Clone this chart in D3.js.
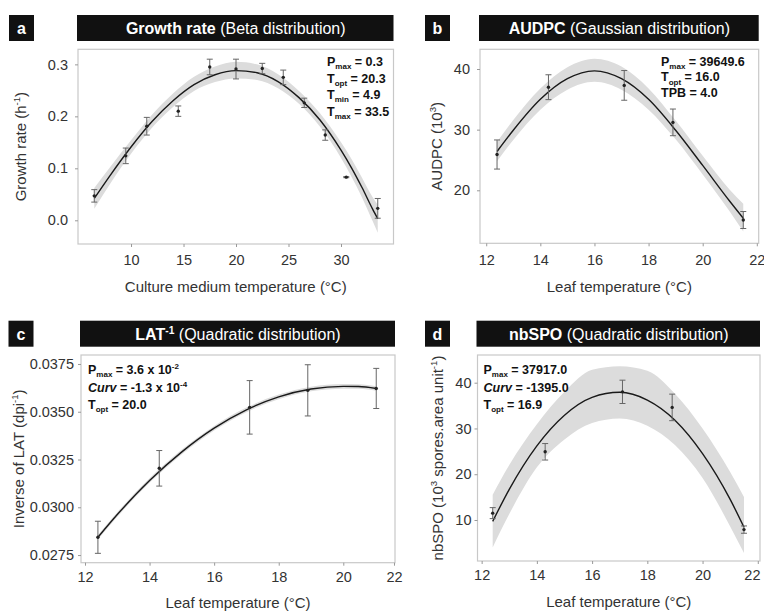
<!DOCTYPE html>
<html>
<head>
<meta charset="utf-8">
<script src="https://cdn.jsdelivr.net/npm/d3@7"></script>
<style>
body { margin: 0; background: #fff; }
text { font-family: "Liberation Sans", Arial, sans-serif; }
</style>
</head>
<body>
<svg id="chart" width="764" height="613"></svg>
<script>
// ---- panel a : growth rate vs culture medium temperature
var tempA = [6.5, 9.5, 11.5, 14.5, 17.5, 20, 22.5, 24.5, 26.5, 28.5, 30.5, 33.5];
var growthRate = [0.047, 0.124, 0.181, 0.210, 0.295, 0.291, 0.292, 0.275, 0.226, 0.164, 0.083, 0.023];
var growthErr = [0.012, 0.015, 0.017, 0.010, 0.015, 0.019, 0.010, 0.014, 0.009, 0.010, 0.001, 0.019];
var fitTempA = [6.5, 8, 10, 12, 14, 16, 18, 20, 22, 24, 26, 28, 30, 31, 32, 33, 33.5];
var fitGrowth = [0.042, 0.086, 0.141, 0.190, 0.230, 0.261, 0.280, 0.288, 0.284, 0.267, 0.236, 0.193, 0.135, 0.101, 0.063, 0.022, 0.003];
var fitGrowthHi = [0.062, 0.102, 0.154, 0.203, 0.244, 0.276, 0.296, 0.305, 0.300, 0.281, 0.249, 0.206, 0.150, 0.118, 0.082, 0.045, 0.030];
var fitGrowthLo = [0.022, 0.070, 0.128, 0.178, 0.218, 0.249, 0.266, 0.273, 0.270, 0.254, 0.224, 0.180, 0.120, 0.084, 0.044, -0.001, -0.024];
var ticksXA = [10, 15, 20, 25, 30];
var ticksYA = [0.0, 0.1, 0.2, 0.3];

// ---- panel b : AUDPC vs leaf temperature
var tempB = [12.4, 14.3, 17.1, 18.9, 21.5];
var audpc = [25.9, 37.0, 37.3, 31.2, 15.1];
var audpcErr = [2.4, 2.05, 2.45, 2.2, 1.4];
var fitTempB = [12.4, 13, 14, 15, 16, 17, 18, 19, 20, 21, 21.5];
var fitAudpc = [26.4, 29.9, 35.0, 38.4, 39.7, 38.4, 35.0, 29.9, 24.1, 18.2, 15.4];
var fitAudpcHi = [28.0, 31.6, 36.8, 40.3, 41.7, 40.4, 36.8, 31.5, 25.7, 20.1, 17.8];
var fitAudpcLo = [24.8, 28.3, 33.3, 36.6, 37.9, 36.6, 33.3, 28.4, 22.6, 16.5, 13.2];
var ticksXB = [12, 14, 16, 18, 20, 22];
var ticksYB = [20, 30, 40];

// ---- panel c : inverse of LAT vs leaf temperature
var tempC = [12.4, 14.3, 17.1, 18.9, 21.3];
var invLat = [0.02843, 0.03204, 0.03523, 0.03612, 0.03622];
var invLatErr = [0.00084, 0.00093, 0.00140, 0.00134, 0.00105];
var fitTempC = [12.4, 13, 14, 15, 16, 17, 18, 19, 20, 20.6, 21.3];
var fitInvLat = [0.02843, 0.02962, 0.03140, 0.03290, 0.03414, 0.03510, 0.03578, 0.03619, 0.03633, 0.03632, 0.03622];
var fitInvLatHi = [0.02855, 0.02974, 0.03152, 0.03302, 0.03426, 0.03522, 0.03590, 0.03631, 0.03645, 0.03644, 0.03634];
var fitInvLatLo = [0.02831, 0.02950, 0.03128, 0.03278, 0.03402, 0.03498, 0.03566, 0.03607, 0.03621, 0.03620, 0.03610];
var ticksXC = [12, 14, 16, 18, 20, 22];
var ticksYC = [0.0275, 0.0300, 0.0325, 0.0350, 0.0375];

// ---- panel d : nbSPO vs leaf temperature
var tempD = [12.4, 14.3, 17.1, 18.9, 21.5];
var nbSpo = [11.5, 24.9, 38.0, 34.6, 7.9];
var nbSpoErr = [1.2, 1.8, 2.55, 2.9, 0.8];
var fitTempD = [12.4, 13, 14, 15, 16, 17, 18, 19, 20, 21, 21.5];
var fitNbSpo = [9.7, 16.7, 26.2, 32.9, 36.8, 37.9, 36.2, 31.8, 24.5, 14.5, 8.4];
var fitNbSpoHi = [15.5, 22.0, 30.9, 38.0, 42.8, 43.6, 42.6, 37.6, 30.0, 20.5, 15.0];
var fitNbSpoLo = [4.0, 11.3, 21.5, 27.6, 31.2, 32.2, 30.6, 26.4, 19.2, 8.6, 2.8];
var ticksXD = [12, 14, 16, 18, 20, 22];
var ticksYD = [10, 20, 30, 40];

// text pieces: t = text, b = bold, i = italic, sub / sup
var titleA = [{t: "Growth rate", b: 1}, {t: " (Beta distribution)"}];
var titleB = [{t: "AUDPC", b: 1}, {t: " (Gaussian distribution)"}];
var titleC = [{t: "LAT", b: 1}, {t: "-1", b: 1, sup: 1}, {t: " (Quadratic distribution)"}];
var titleD = [{t: "nbSPO", b: 1}, {t: " (Quadratic distribution)"}];

var yTitleA = [{t: "Growth rate (h"}, {t: "-1", sup: 1}, {t: ")"}];
var yTitleB = [{t: "AUDPC (10"}, {t: "3", sup: 1}, {t: ")"}];
var yTitleC = [{t: "Inverse of LAT (dpi"}, {t: "-1", sup: 1}, {t: ")"}];
var yTitleD = [{t: "nbSPO (10"}, {t: "3", sup: 1}, {t: " spores.area unit"}, {t: "-1", sup: 1}, {t: ")"}];

var notesA = [
  [{t: "P"}, {t: "max", sub: 1}, {t: " = 0.3"}],
  [{t: "T"}, {t: "opt", sub: 1}, {t: " = 20.3"}],
  [{t: "T"}, {t: "min", sub: 1}, {t: " = 4.9"}],
  [{t: "T"}, {t: "max", sub: 1}, {t: " = 33.5"}]
];
var notesB = [
  [{t: "P"}, {t: "max", sub: 1}, {t: " = 39649.6"}],
  [{t: "T"}, {t: "opt", sub: 1}, {t: " = 16.0"}],
  [{t: "TPB = 4.0"}]
];
var notesC = [
  [{t: "P"}, {t: "max", sub: 1}, {t: "  = 3.6 x 10"}, {t: "-2", sup: 1}],
  [{t: "Curv", i: 1}, {t: " = -1.3 x 10"}, {t: "-4", sup: 1}],
  [{t: "T"}, {t: "opt", sub: 1}, {t: " = 20.0"}]
];
var notesD = [
  [{t: "P"}, {t: "max", sub: 1}, {t: " = 37917.0"}],
  [{t: "Curv", i: 1}, {t: " = -1395.0"}],
  [{t: "T"}, {t: "opt", sub: 1}, {t: " = 16.9"}]
];

var svg = d3.select("#chart");
svg.append("rect").attr("width", 764).attr("height", 613).attr("fill", "#fff");

// write pieces into a text element, moving up/down for sub and sup
function rich(sel, parts, size) {
  var shift = 0;
  parts.forEach(function(p) {
    var s = p.sub ? size * 0.26 : (p.sup ? -size * 0.38 : 0);
    var ts = sel.append("tspan").text(p.t).attr("dy", s - shift);
    shift = s;
    if (p.sub || p.sup) ts.attr("font-size", size * 0.64);
    if (p.b) ts.attr("font-weight", "bold");
    if (p.i) ts.attr("font-style", "italic");
  });
}

function drawPanel(p) {
  var w = p.right - p.left, h = p.bottom - p.top;
  var x = d3.scaleLinear().domain(p.xDomain).range(p.xRange || [0, w]);
  var y = d3.scaleLinear().domain(p.yDomain).range([h, 0]);

  // letter box and title bar
  svg.append("rect").attr("x", p.boxX).attr("y", p.barTop).attr("width", 25).attr("height", 26).attr("fill", "#111");
  svg.append("text").attr("x", p.boxX + 12.5).attr("y", p.barTop + 19).attr("text-anchor", "middle")
    .attr("fill", "#fff").attr("font-size", 16).attr("font-weight", "bold").text(p.letter);
  svg.append("rect").attr("x", p.left - 1).attr("y", p.barTop).attr("width", w + 1).attr("height", 26).attr("fill", "#111");
  var tt = svg.append("text").attr("x", p.left + w / 2).attr("y", p.barTop + 19).attr("text-anchor", "middle")
    .attr("fill", "#fff").attr("font-size", 16);
  rich(tt, p.title, 16);

  var g = svg.append("g").attr("transform", "translate(" + p.left + "," + p.top + ")");
  var clipId = "clip" + p.letter;
  g.append("clipPath").attr("id", clipId).append("rect").attr("width", w).attr("height", h);
  var plot = g.append("g").attr("clip-path", "url(#" + clipId + ")");

  var idx = d3.range(p.fitX.length);
  plot.append("path").datum(idx)
    .attr("fill", "#dcdcdc")
    .attr("d", d3.area().curve(d3.curveMonotoneX)
      .x(function(i) { return x(p.fitX[i]); })
      .y0(function(i) { return y(p.fitLo[i]); })
      .y1(function(i) { return y(p.fitHi[i]); }));
  plot.append("path").datum(idx)
    .attr("fill", "none").attr("stroke", "#1a1a1a").attr("stroke-width", 1.4)
    .attr("d", d3.line().curve(d3.curveMonotoneX)
      .x(function(i) { return x(p.fitX[i]); })
      .y(function(i) { return y(p.fitY[i]); }));

  var pts = d3.range(p.xs.length);
  var eb = plot.selectAll(".eb").data(pts).enter().append("g").attr("stroke", "#666").attr("stroke-width", 1);
  eb.append("line").attr("x1", function(i) { return x(p.xs[i]); }).attr("x2", function(i) { return x(p.xs[i]); })
    .attr("y1", function(i) { return y(p.ys[i] - p.err[i]); }).attr("y2", function(i) { return y(p.ys[i] + p.err[i]); });
  [-1, 1].forEach(function(sg) {
    eb.append("line").attr("x1", function(i) { return x(p.xs[i]) - 3; }).attr("x2", function(i) { return x(p.xs[i]) + 3; })
      .attr("y1", function(i) { return y(p.ys[i] + sg * p.err[i]); }).attr("y2", function(i) { return y(p.ys[i] + sg * p.err[i]); });
  });
  plot.selectAll(".pt").data(pts).enter().append("circle")
    .attr("cx", function(i) { return x(p.xs[i]); }).attr("cy", function(i) { return y(p.ys[i]); })
    .attr("r", 1.7).attr("fill", "#222");

  g.append("rect").attr("width", w).attr("height", h).attr("fill", "none").attr("stroke", "#c8c8c8").attr("stroke-width", 1.2);

  var ax = g.append("g").attr("transform", "translate(0," + h + ")")
    .call(d3.axisBottom(x).tickValues(p.xTicks).tickSize(3).tickPadding(p.xPad).tickFormat(d3.format("d")));
  var ay = g.append("g")
    .call(d3.axisLeft(y).tickValues(p.yTicks).tickSize(3).tickPadding(p.yPad).tickFormat(d3.format(p.yFormat)));
  [ax, ay].forEach(function(a) {
    a.select(".domain").remove();
    a.selectAll("line").attr("stroke", "#999");
    a.selectAll("text").attr("fill", "#333").attr("font-size", 14.5)
      .style("font-family", "'Liberation Sans', Arial, sans-serif");
  });
  // the last label of panel d sits on the page edge
  if (p.lastLabelEnd) {
    var labels = ax.selectAll(".tick text");
    d3.select(labels.nodes()[labels.size() - 1]).attr("text-anchor", "end").attr("dx", "0.15em");
  }

  svg.append("text").attr("x", p.left + w / 2).attr("y", p.xTitleY).attr("text-anchor", "middle")
    .attr("fill", "#333").attr("font-size", 15).text(p.xTitle);
  var yt = svg.append("text").attr("text-anchor", "middle").attr("fill", "#333").attr("font-size", 15)
    .attr("transform", "translate(" + p.yTitleX + "," + (p.top + h / 2) + ") rotate(-90)");
  rich(yt, p.yTitle, 15);

  p.notes.forEach(function(line, k) {
    var nt = svg.append("text").attr("x", p.noteX).attr("y", p.noteY + k * p.noteDy)
      .attr("fill", "#111").attr("font-size", 12.5).attr("font-weight", "bold");
    rich(nt, line, 12.5);
  });
}

drawPanel({
  letter: "a", boxX: 9, barTop: 15,
  left: 78, right: 393.5, top: 49.3, bottom: 244,
  xDomain: [4.95, 35.0], yDomain: [-0.0456, 0.329],
  xs: tempA, ys: growthRate, err: growthErr,
  fitX: fitTempA, fitY: fitGrowth, fitHi: fitGrowthHi, fitLo: fitGrowthLo,
  xTicks: ticksXA, yTicks: ticksYA, yFormat: ".1f", xPad: 8, yPad: 7,
  title: titleA, xTitle: "Culture medium temperature (°C)", xTitleY: 292,
  yTitle: yTitleA, yTitleX: 26,
  notes: notesA, noteX: 327, noteY: 66, noteDy: 16.5
});

drawPanel({
  letter: "b", boxX: 425, barTop: 15,
  left: 480, right: 758.7, top: 49.3, bottom: 243.3,
  xDomain: [11.77, 22.07], yDomain: [11.26, 43.25],
  xs: tempB, ys: audpc, err: audpcErr,
  fitX: fitTempB, fitY: fitAudpc, fitHi: fitAudpcHi, fitLo: fitAudpcLo,
  xTicks: ticksXB, yTicks: ticksYB, yFormat: "d", xPad: 8, yPad: 7,
  title: titleB, xTitle: "Leaf temperature (°C)", xTitleY: 292,
  yTitle: yTitleB, yTitleX: 442,
  notes: notesB, noteX: 661, noteY: 65.5, noteDy: 15.8
});

drawPanel({
  letter: "c", boxX: 8.5, barTop: 320.7,
  left: 81, right: 395, top: 355, bottom: 562.7,
  // the right end of this axis is squeezed in the original figure
  xDomain: [11.876, 20, 22.04], xRange: [0, 262.3, 314], yDomain: [0.0271, 0.03797],
  xs: tempC, ys: invLat, err: invLatErr,
  fitX: fitTempC, fitY: fitInvLat, fitHi: fitInvLatHi, fitLo: fitInvLatLo,
  xTicks: ticksXC, yTicks: ticksYC, yFormat: ".4f", xPad: 6, yPad: 4,
  title: titleC, xTitle: "Leaf temperature (°C)", xTitleY: 608,
  yTitle: yTitleC, yTitleX: 23.5,
  notes: notesC, noteX: 88, noteY: 374, noteDy: 17.5
});

drawPanel({
  letter: "d", boxX: 425, barTop: 320.7,
  left: 477.5, right: 760, top: 355, bottom: 561,
  xDomain: [11.85, 22.08], yDomain: [1.04, 46.05],
  xs: tempD, ys: nbSpo, err: nbSpoErr,
  fitX: fitTempD, fitY: fitNbSpo, fitHi: fitNbSpoHi, fitLo: fitNbSpoLo,
  xTicks: ticksXD, yTicks: ticksYD, yFormat: "d", xPad: 6, yPad: 3,
  title: titleD, xTitle: "Leaf temperature (°C)", xTitleY: 607,
  yTitle: yTitleD, yTitleX: 443, lastLabelEnd: true,
  notes: notesD, noteX: 483.5, noteY: 374, noteDy: 17.5
});
</script>
</body>
</html>
